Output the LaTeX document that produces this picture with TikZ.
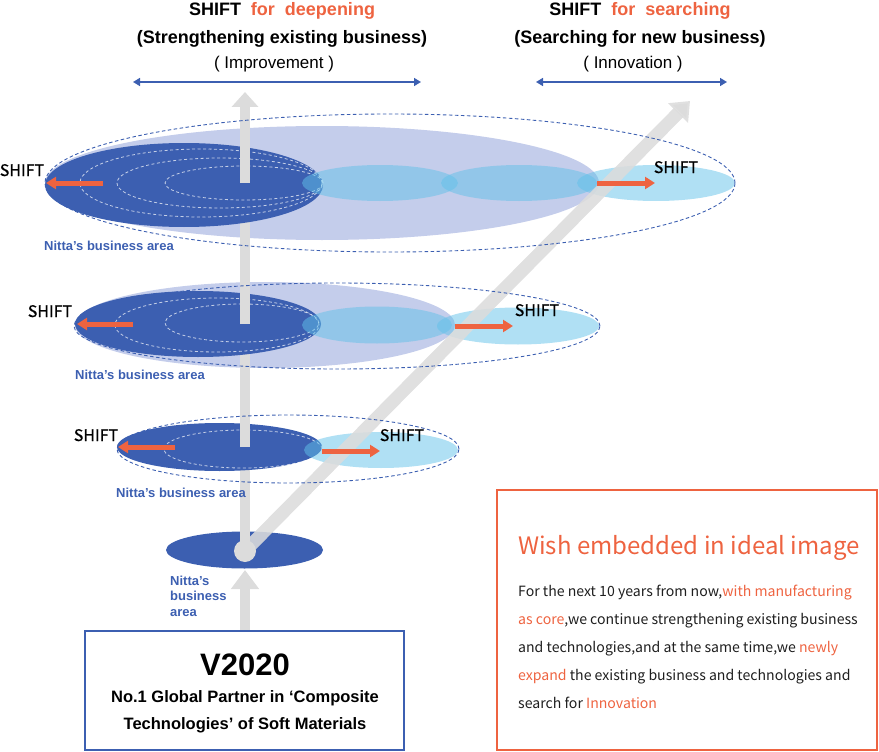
\documentclass[tikz,border=0pt]{standalone}
\usepackage{fontspec}
\setmainfont{Liberation Sans}
\newfontfamily\cjkf{Noto Sans CJK JP}
\newfontfamily\cjkm[FakeBold=0.7]{Noto Sans CJK JP}
\usetikzlibrary{arrows.meta}
\definecolor{dblue}{RGB}{60,95,177}
\definecolor{lavc}{RGB}{196,205,235}
\definecolor{cyanc}{RGB}{97,193,233}
\definecolor{shiftred}{RGB}{238,99,64}
\definecolor{grayarr}{RGB}{220,220,220}
\definecolor{txtc}{RGB}{30,30,30}
\tikzset{
  lav/.style={fill=lavc},
  dark/.style={fill=dblue},
  cy/.style={fill=cyanc, fill opacity=0.5},
  wdash/.style={draw=white, draw opacity=0.7, line width=0.8pt, dash pattern=on 3pt off 2.5pt},
  bdash/.style={draw=dblue, line width=0.9pt, dash pattern=on 3.5pt off 2.5pt},
  shaft/.style={draw=grayarr, line width=10pt},
  redarr/.style={draw=shiftred, line width=5pt, -{Triangle[length=10pt,width=12pt]}},
  blarr/.style={draw=dblue, line width=1.6pt, {Triangle[length=7pt,width=8pt]}-{Triangle[length=7pt,width=8pt]}},
  shiftlbl/.style={font=\cjkm\fontsize{16}{18}\selectfont, text=black, anchor=base, inner sep=0pt},
  nitta/.style={font=\bfseries\fontsize{13}{15.5}\selectfont, text=dblue, anchor=base west, inner sep=0pt},
  head/.style={font=\bfseries\fontsize{18}{21}\selectfont, anchor=base, inner sep=0pt},
  subhead/.style={font=\fontsize{17}{20}\selectfont, anchor=base, inner sep=0pt},
  body/.style={font=\cjkf\fontsize{14.1}{17}\selectfont, text=txtc, anchor=base west, inner sep=0pt}
}
\begin{document}
\begin{tikzpicture}[x=1pt,y=-1pt]
\useasboundingbox (0,0) rectangle (879,752);

% lavender areas
\fill[lav] (322,183) ellipse [x radius=277pt, y radius=57pt];
\fill[lav] (265,325) ellipse [x radius=190pt, y radius=43pt];

% named points of the vertical axis
\coordinate (c0) at (245,551);
\coordinate (c1) at (245,447);
\coordinate (c2) at (245,324);
\coordinate (c3) at (245,183);
\coordinate (ctop) at (245,92);
\coordinate (boxtop) at (245,631);
\coordinate (etip) at (245,570);
\coordinate (dtip) at (690,101);

% bottom ellipse
\fill[dark] (244.5,550) ellipse [x radius=78.5pt, y radius=18.5pt];
\draw[shaft] (c0) -- (c1);

% level 1
\fill[dark] (219.5,447) ellipse [x radius=102.5pt, y radius=24pt];
\draw[wdash] (243,449) ellipse [x radius=79pt, y radius=19pt];
\draw[shaft] (c1) -- (c2);

% level 2
\fill[dark] (198,324) ellipse [x radius=123pt, y radius=33pt];
\draw[wdash] (217,325) ellipse [x radius=102pt, y radius=27pt];
\draw[wdash] (242,323) ellipse [x radius=77pt, y radius=19pt];
\draw[shaft] (c2) -- (c3);

% level 3
\fill[dark] (184,185) ellipse [x radius=139pt, y radius=42pt];
\draw[wdash] (201,183) ellipse [x radius=121pt, y radius=34pt];
\draw[wdash] (220,183) ellipse [x radius=103pt, y radius=25pt];
\draw[wdash] (244,183) ellipse [x radius=79pt, y radius=17pt];
\draw[shaft, -{Triangle[length=15pt,width=26pt]}] (c3) -- (ctop);

% arrow from V2020 box
\draw[shaft, -{Triangle[length=19pt,width=27pt]}] (boxtop) -- (etip);

% cyan areas
\fill[cy] (381,450) ellipse [x radius=77pt, y radius=18pt];
\fill[cy] (377,325) ellipse [x radius=75pt, y radius=18.5pt];
\fill[cy] (518,326) ellipse [x radius=81pt, y radius=18.5pt];
\fill[cy] (380,183) ellipse [x radius=78pt, y radius=18pt];
\fill[cy] (519,183) ellipse [x radius=78pt, y radius=18pt];
\fill[cy] (656,183) ellipse [x radius=79pt, y radius=18pt];

% diagonal arrow
\draw[draw=grayarr, draw opacity=0.88, line width=13pt, -{Triangle[length=17pt,width=27pt]}] (c0) -- (dtip);
\fill[grayarr] (c0) circle [radius=11pt];

% outer dashed ellipses
\draw[bdash] (288,449) ellipse [x radius=171pt, y radius=34pt];
\draw[bdash] (337,326) ellipse [x radius=263pt, y radius=43pt];
\draw[bdash] (390,183) ellipse [x radius=345pt, y radius=69pt];

% red shift arrows
\coordinate (r3a) at (103,183); \coordinate (r3b) at (46,183);
\coordinate (r3c) at (597,183); \coordinate (r3d) at (655,183);
\coordinate (r2a) at (133,324); \coordinate (r2b) at (77,324);
\coordinate (r2c) at (455,326); \coordinate (r2d) at (513,326);
\coordinate (r1a) at (175,447); \coordinate (r1b) at (118,447);
\coordinate (r1c) at (322,451); \coordinate (r1d) at (380,451);
\draw[redarr] (r3a) -- (r3b);
\draw[redarr] (r3c) -- (r3d);
\draw[redarr] (r2a) -- (r2b);
\draw[redarr] (r2c) -- (r2d);
\draw[redarr] (r1a) -- (r1b);
\draw[redarr] (r1c) -- (r1d);

% SHIFT labels
\node[shiftlbl] (s3l) at (22,176) {SHIFT};
\node[shiftlbl] (s3r) at (676,173) {SHIFT};
\node[shiftlbl] (s2l) at (50,317) {SHIFT};
\node[shiftlbl] (s2r) at (537,316) {SHIFT};
\node[shiftlbl] (s1l) at (96,441) {SHIFT};
\node[shiftlbl] (s1r) at (402,441) {SHIFT};

% Nitta's business area
\node[nitta] (n3) at (44,250) {Nitta’s business area};
\node[nitta] (n2) at (75,379) {Nitta’s business area};
\node[nitta] (n1) at (116,497) {Nitta’s business area};
\node[nitta] (n0) at (170,585) {Nitta’s};
\node[nitta] (n0b) at (170,600) {business};
\node[nitta] (n0c) at (170,616) {area};

% headings
\node[head] (h1) at (282,16) {SHIFT\ \ \textcolor{shiftred}{for\ \ deepening}};
\node[head] (h2) at (282,44) {(Strengthening existing business)};
\node[subhead] (h3) at (274,69) {( Improvement )};
\node[head] (h4) at (640,16) {SHIFT\ \ \textcolor{shiftred}{for\ \ searching}};
\node[head] (h5) at (640,44) {(Searching for new business)};
\node[subhead] (h6) at (633,69) {( Innovation )};
\coordinate (a1) at (133,82); \coordinate (a2) at (421,82);
\coordinate (a3) at (536,82); \coordinate (a4) at (727,82);
\draw[blarr] (a1) -- (a2);
\draw[blarr] (a3) -- (a4);

% V2020 box
\draw[draw=dblue, line width=1.5pt] (85,631) rectangle (404,750);
\node[font=\bfseries\fontsize{31}{34}\selectfont, anchor=base, inner sep=0pt] (v1) at (245,675) {V2020};
\node[font=\bfseries\fontsize{16.5}{19}\selectfont, anchor=base, inner sep=0pt] (v2) at (245,702) {No.1 Global Partner in ‘Composite};
\node[font=\bfseries\fontsize{16.5}{19}\selectfont, anchor=base, inner sep=0pt] (v3) at (245,729) {Technologies’ of Soft Materials};

% Wish box
\draw[draw=shiftred, line width=1.5pt] (497,490) rectangle (877,750);
\node[font=\cjkf\fontsize{24}{28}\selectfont, text=shiftred, anchor=base west, inner sep=0pt] (w0) at (518,554) {Wish embedded in ideal image};
\node[body] (w1) at (518,596) {For the next 10 years from now,\textcolor{shiftred}{with manufacturing}};
\node[body] (w2) at (518,624) {\textcolor{shiftred}{as core},we continue strengthening existing business};
\node[body] (w3) at (518,652) {and technologies,and at the same time,we \textcolor{shiftred}{newly}};
\node[body] (w4) at (518,680) {\textcolor{shiftred}{expand} the existing business and technologies and};
\node[body] (w5) at (518,708) {search for \textcolor{shiftred}{Innovation}};
\end{tikzpicture}
\end{document}
